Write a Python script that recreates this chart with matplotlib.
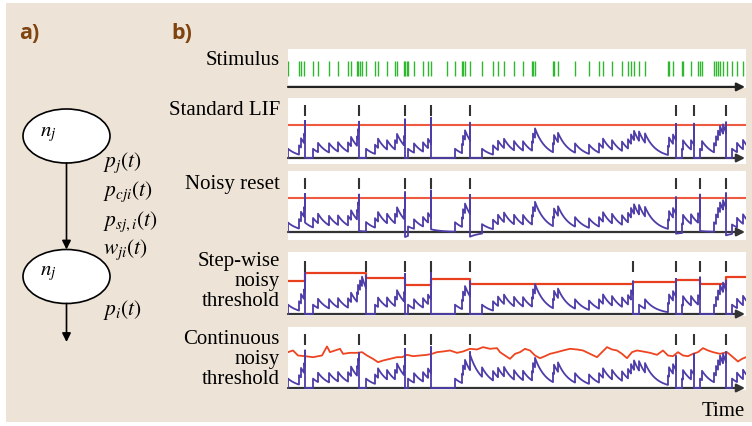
import numpy as np
import matplotlib
matplotlib.use('Agg')
import matplotlib.pyplot as plt
from matplotlib.patches import Ellipse, Rectangle

# ---------------- data (time axis in reference pixel units) ----------------
T0, T1 = 288, 746
stimulus_times = [288, 299, 301, 304, 313, 318, 329, 338, 348, 351, 357, 358, 360, 362, 366,
                  375, 378, 387, 395, 397, 404, 405, 407, 408, 414, 423, 428, 431, 447, 455,
                  462, 463, 465, 470, 482, 493, 498, 504, 514, 523, 532, 533, 535, 553, 554,
                  558, 575, 589, 599, 603, 612, 622, 628, 631, 634, 639, 645, 668, 669, 673,
                  682, 683, 691, 698, 700, 702, 714, 716, 718, 720, 723, 727, 732, 737, 743]

# Standard LIF
lif_spikes = [305, 359, 405, 431, 470, 676, 694, 726]
lif_peaks = [1.12, 1.10, 1.17, 1.22, 1.07, 1.03, 1.04, 1.08]
lif_resets = [0, 0, 0, 0, 0, 0, 0, 0]
lif_resume = [313, 366, 408, 455, 482, 682, 699, 732]

# Noisy reset
nr_spikes = [305, 359, 405, 431, 470, 676, 700, 726]
nr_peaks = [1.13, 1.11, 1.18, 1.23, 1.10, 1.03, 1.11, 1.15]
nr_resets = [0.28, 0.03, -0.15, 0.08, -0.14, -0.05, 0.03, -0.10]
nr_resume = [313, 366, 408, 455, 482, 682, 713, 732]

# Step-wise noisy threshold
sw_spikes = [305, 366, 405, 431, 470, 633, 676, 700, 726]
sw_peaks = [1.25, 1.16, 1.20, 1.23, 0.98, 0.98, 1.05, 1.10, 1.00]
sw_resets = [0, 0, 0, 0, 0, 0, 0, 0, 0]
sw_resume = [313, 375, 408, 455, 482, 636, 682, 713, 732]
sw_thr_edges = [288, 305, 366, 405, 431, 470, 633, 676, 700, 726, 746]
sw_thr_levels = [1.00, 1.23, 1.07, 0.87, 1.04, 0.89, 0.95, 1.01, 0.90, 1.12]

# Continuous noisy threshold
cn_spikes = [305, 359, 405, 431, 470, 676, 694, 726]
cn_peaks = [1.12, 1.04, 1.17, 1.22, 1.07, 0.95, 1.02, 1.07]
cn_resets = [0, 0, 0, 0, 1.0, 0, 0, 0]
cn_resume = [313, 366, 408, 455, 470, 682, 699, 732]
cn_thr_t = [288, 293, 298, 305, 313, 322, 327, 330, 335, 340, 343, 350, 357, 362, 367, 373,
            378, 383, 390, 397, 402, 407, 413, 420, 427, 432, 437, 443, 450, 457, 463, 470,
            477, 483, 490, 497, 500, 505, 510, 515, 520, 525, 530, 535, 540, 545, 550, 557,
            563, 570, 577, 583, 590, 597, 602, 607, 612, 617, 622, 627, 632, 637, 643, 650,
            657, 663, 668, 673, 678, 683, 688, 693, 698, 703, 708, 713, 720, 727, 733, 738,
            742, 746]
cn_thr_v = [1.07, 1.12, 0.97, 0.95, 0.92, 0.97, 1.24, 1.07, 1.12, 1.17, 1.02, 1.05, 1.05,
            1.07, 0.97, 0.87, 0.77, 0.82, 0.87, 0.92, 0.92, 0.99, 0.95, 0.97, 0.99, 1.02,
            1.07, 1.09, 1.12, 1.05, 1.09, 1.17, 1.15, 1.22, 1.17, 1.19, 1.07, 0.97, 0.87,
            1.02, 1.07, 1.17, 1.12, 0.97, 0.89, 0.95, 1.02, 1.07, 1.12, 1.17, 1.15, 1.12,
            1.02, 0.92, 1.07, 1.22, 1.15, 1.12, 1.02, 0.89, 1.07, 1.12, 1.09, 1.05, 0.99,
            1.12, 0.97, 0.95, 1.07, 0.97, 0.95, 1.02, 1.07, 1.19, 1.12, 1.07, 1.02, 1.07,
            0.92, 0.79, 0.87, 0.92]

W_IN = 0.28   # jump per input spike
TAU = 11.0    # membrane time constant (px)

a_labels = [r'$p_j(t)$', r'$p_{cji}(t)$', r'$p_{sj,i}(t)$', r'$w_{ji}(t)$', r'$p_i(t)$']
row_labels = ['Stimulus', 'Standard LIF', 'Noisy reset', 'Step-wise\nnoisy\nthreshold',
              'Continuous\nnoisy\nthreshold']

# ---------------- helpers ----------------
def lif_trace(stims, spk_t, spk_peak, spk_reset, spk_resume):
    events = [(s, 0, None) for s in stims] + [(t, 1, k) for k, t in enumerate(spk_t)]
    events.sort(key=lambda e: (e[0], e[1]))
    xs, ys = [float(T0)], [0.0]
    state = {'v': 0.0, 't': float(T0), 'refr': -1.0}

    def advance(tn):
        v, t = state['v'], state['t']
        for s in np.arange(t + 1.0, tn, 1.0):
            xs.append(s); ys.append(v * np.exp(-(s - t) / TAU))
        state['v'] = v * np.exp(-(tn - t) / TAU)
        state['t'] = tn
        xs.append(tn); ys.append(state['v'])

    for te, kind, k in events:
        advance(float(te))
        if kind == 0:
            if te >= state['refr']:
                state['v'] += W_IN
                xs.append(te); ys.append(state['v'])
        else:
            xs.append(te); ys.append(spk_peak[k])
            state['v'] = spk_reset[k]
            xs.append(te); ys.append(state['v'])
            state['refr'] = spk_resume[k]
    advance(float(T1))
    return xs, ys

W, H = 752, 427
fig = plt.figure(figsize=(W / 100, H / 100), dpi=100)
fig.patch.set_facecolor('white')
plt.rcParams['mathtext.fontset'] = 'stix'

bg = fig.add_axes([0, 0, 1, 1])
bg.set_xlim(0, W); bg.set_ylim(H, 0); bg.axis('off')
bg.add_patch(Rectangle((6, 4), W - 6, 419, facecolor='#ede3d6', edgecolor='none', zorder=0))

BROWN = '#7f4310'
bg.text(19, 39, 'a)', fontsize=15.5, fontweight='bold', color=BROWN, family='Open Sans')
bg.text(171, 39, 'b)', fontsize=15.5, fontweight='bold', color=BROWN, family='Open Sans')

# panel a
for cy in (137, 277.5):
    bg.add_patch(Ellipse((66.5, cy), 87, 54, facecolor='white', edgecolor='black', lw=1.2, zorder=2))
bg.text(40, 134, r'$n_j$', fontsize=15, va='center', zorder=3)
bg.text(40, 273, r'$n_j$', fontsize=15, va='center', zorder=3)
bg.annotate('', xy=(66.5, 250.5), xytext=(66.5, 164),
            arrowprops=dict(arrowstyle='-|>', color='black', lw=1.2, mutation_scale=13,
                            shrinkA=0, shrinkB=0))
bg.annotate('', xy=(66.5, 343), xytext=(66.5, 304.5),
            arrowprops=dict(arrowstyle='-|>', color='black', lw=1.2, mutation_scale=13,
                            shrinkA=0, shrinkB=0))
for lab, yy in zip(a_labels, [163, 192, 222, 250, 310]):
    bg.text(103, yy, lab, fontsize=15.5, va='center')

# row labels
SERIF = 'Liberation Serif'
for lab, yb in zip(row_labels, [65, 115, 189, 266, 344]):
    lines = lab.split('\n')
    for i, ln in enumerate(lines):
        bg.text(280, yb + 20 * i, ln, family=SERIF, fontsize=15, ha='right', va='baseline')
bg.text(745, 416, 'Time', family=SERIF, fontsize=15, ha='right', va='baseline')

def px_axes(y0, y1, x0=288, x1=746):
    ax = fig.add_axes([x0 / W, 1 - y1 / H, (x1 - x0) / W, (y1 - y0) / H])
    ax.set_facecolor('white')
    for s in ax.spines.values():
        s.set_visible(False)
    ax.set_xticks([]); ax.set_yticks([])
    ax.set_xlim(T0, T1)
    return ax

def base_arrow(ax, y, color='#333333'):
    ax.annotate('', xy=(T1 - 1, y), xytext=(T0, y), xycoords='data',
                arrowprops=dict(arrowstyle='-|>', color=color, lw=1.6, mutation_scale=12,
                                shrinkA=0, shrinkB=0), annotation_clip=False, zorder=1)

# stimulus
ax = px_axes(50, 88.5)
ax.set_ylim(0, 1)
ax.vlines(stimulus_times, 0.3, 0.69, color='#2fb82f', lw=1.0)
base_arrow(ax, 0.015, '#222222')

PURPLE = '#4e3ca8'
RED = '#ee5a40'
TICK = '#333333'

def trace_panel(y0, y1, base_px, unit, spikes, peaks, resets, resume):
    ax = px_axes(y0, y1)
    ax.set_ylim((base_px - y1) / unit, (base_px - y0) / unit)
    base_arrow(ax, 0)
    xs, ys = lif_trace(stimulus_times, spikes, peaks, resets, resume)
    ax.plot(xs, ys, color=PURPLE, lw=1.3, zorder=3)
    ax.vlines(spikes, 1.27, 1.6, color=TICK, lw=1.5, zorder=4)
    return ax

ax1 = trace_panel(99, 164.5, 159, 33.0, lif_spikes, lif_peaks, lif_resets, lif_resume)
ax1.axhline(1.0, color=RED, lw=1.5, zorder=2)

ax2 = trace_panel(172, 241, 233, 33.7, nr_spikes, nr_peaks, nr_resets, nr_resume)
ax2.axhline(1.0, color=RED, lw=1.5, zorder=2)

ax3 = trace_panel(253, 316.5, 315, 33.3, sw_spikes, sw_peaks, sw_resets, sw_resume)
ax3.step(sw_thr_edges, sw_thr_levels + [sw_thr_levels[-1]], where='post',
         color='#e8401e', lw=1.6, zorder=2)

ax4 = trace_panel(328, 390.5, 389, 33.5, cn_spikes, cn_peaks, cn_resets, cn_resume)
ax4.plot(cn_thr_t, cn_thr_v, color='#ee4420', lw=1.3, zorder=2)

fig.savefig('out.png', dpi=100, facecolor=fig.get_facecolor())
